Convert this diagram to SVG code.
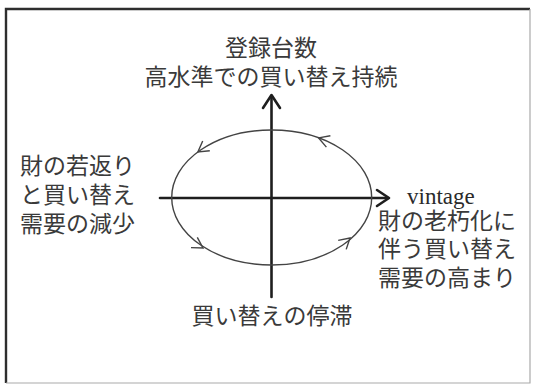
<svg xmlns="http://www.w3.org/2000/svg" width="534" height="386" viewBox="0 0 534 386">
<style>
.jp{font-family:"Noto Sans CJK JP","Noto Sans CJK SC",sans-serif;font-size:23px;fill:#3a3a3a}
.en{font-family:"Liberation Serif",serif;font-size:23px;fill:#2a2a2a}
.axis{stroke:#1e1e1e;stroke-width:2.6;fill:none;stroke-linecap:round;stroke-linejoin:round}
.cyc{stroke:#444;stroke-width:1.4;fill:none}
.chev{stroke:#444;stroke-width:1.4;fill:none;stroke-linejoin:miter}
</style>
<rect x="0" y="0" width="534" height="386" fill="#fff"/>
<g id="frame">
<path d="M6 383 V9 H530" fill="none" stroke="#2e2e2e" stroke-width="2.4"/>
<path d="M530 9 V383 H6" fill="none" stroke="#aaa" stroke-width="1.2"/>
</g>
<g id="connectors">
<path class="axis" d="M271.5 297 V96"/>
<path class="axis" d="M263 108 L271.5 95 L280 108"/>
<path class="axis" d="M160 198 H388"/>
<path class="axis" d="M377 190 L389 198 L377 206"/>
<ellipse class="cyc" cx="271.7" cy="197.5" rx="100" ry="67.5"/>
<path class="chev" d="M209.8 150.7 L197.9 152 L202.7 141"/>
<path class="chev" d="M326.4 147.1 L318.6 137.9 L330.4 135.8"/>
<path class="chev" d="M197.3 237.4 L203 248 L191 247.6"/>
<path class="chev" d="M338.2 240.4 L350 238 L346.2 249.4"/>
</g>
<g id="node-top">
<text class="jp" x="271" y="56" text-anchor="middle">登録台数</text>
<text class="jp" x="271" y="85" text-anchor="middle">高水準での買い替え持続</text>
</g>
<g id="node-left">
<text class="jp" x="20" y="174">財の若返り</text>
<text class="jp" x="20" y="203">と買い替え</text>
<text class="jp" x="20" y="232">需要の減少</text>
</g>
<g id="node-right">
<text class="en" x="407" y="204">vintage</text>
<text class="jp" x="378" y="229">財の老朽化に</text>
<text class="jp" x="378" y="257">伴う買い替え</text>
<text class="jp" x="378" y="286">需要の高まり</text>
</g>
<g id="node-bottom">
<text class="jp" x="272" y="324" text-anchor="middle">買い替えの停滞</text>
</g>
</svg>
